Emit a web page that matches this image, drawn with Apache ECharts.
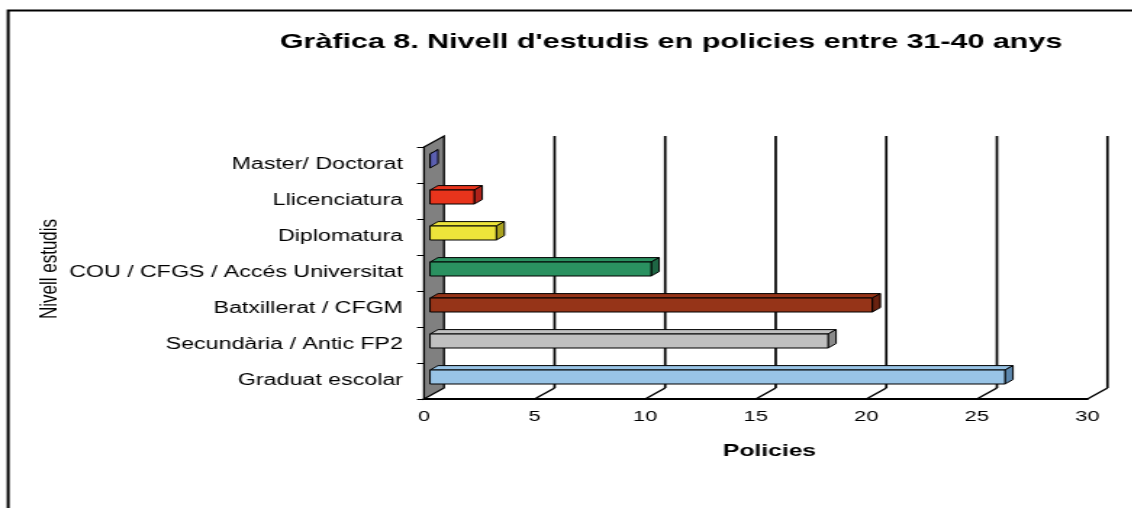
<!DOCTYPE html>
<html>
<head>
<meta charset="utf-8">
<script src="https://cdn.jsdelivr.net/npm/echarts@6/dist/echarts.min.js"></script>
<style>
  html, body { margin: 0; padding: 0; background: #fff; overflow: hidden; }
  /* the original picture is stretched sideways, so the chart is drawn narrow and widened */
  #chart { width: 781.4px; height: 508px; transform: scaleX(1.45); transform-origin: 0 0; }
</style>
</head>
<body>
<div id="chart"></div>
<script>
// categories top to bottom
const categories = [
  'Master/ Doctorat',
  'Llicenciatura',
  'Diplomatura',
  'COU / CFGS / Accés Universitat',
  'Batxillerat / CFGM',
  'Secundària / Antic FP2',
  'Graduat escolar'
];
const values = [0, 2, 3, 10, 20, 18, 26];
const frontColors = ['#7b7fd6', '#e8341c', '#ede43a', '#2a9160', '#963418', '#c0c0c0', '#99c4e6'];
const sideColors = ['#5b5fb0', '#b0221a', '#aaa21e', '#1e6644', '#6a2210', '#8a8a8a', '#5c87ad'];
const xTicks = [0, 5, 10, 15, 20, 25, 30];

const SX = 1.45;          // horizontal stretch
const DX = 20 / SX, DY = 11; // depth offset of back plane

const chart = echarts.init(document.getElementById('chart'));

const option = {
  animation: false,
  backgroundColor: '#fff',
  title: {
    text: "Gràfica 8. Nivell d'estudis en policies entre 31-40 anys",
    left: 188,
    top: 27,
    textStyle: { fontFamily: 'Liberation Sans', fontWeight: 'bold', fontSize: 21, color: '#000' }
  },
  graphic: [{
    type: 'rect',
    shape: { x: 5.6, y: 10.5, width: 1300, height: 700 },
    style: { fill: 'none', stroke: '#000', lineWidth: 2 },
    silent: true
  }],
  grid: { left: 424 / SX, right: 45 / SX, top: 147, bottom: 109 },
  xAxis: {
    type: 'value',
    min: 0,
    max: 30,
    interval: 5,
    name: 'Policies',
    nameLocation: 'middle',
    nameGap: 44,
    nameTextStyle: { fontFamily: 'Liberation Sans', fontWeight: 'bold', fontSize: 17, color: '#000', padding: [0, 0, 0, 19] },
    axisLine: { show: true, lineStyle: { color: '#000', width: 2 } },
    axisTick: { show: false },
    splitLine: { show: false },
    axisLabel: { margin: 10, fontFamily: 'Liberation Sans', fontSize: 15, color: '#000' }
  },
  yAxis: {
    type: 'category',
    inverse: true,
    data: categories,
    name: 'Nivell estudis',
    nameLocation: 'middle',
    nameRotate: 90,
    nameGap: 250,
    nameMoveOverlap: false,
    nameTextStyle: { fontFamily: 'Liberation Sans', fontSize: 17, color: '#000', padding: [0, 0, 0, 8] },
    axisLine: { show: true, lineStyle: { color: '#000', width: 1 } },
    axisTick: { show: true, length: 7 / SX, lineStyle: { color: '#000' } },
    axisLabel: { margin: 21 / SX, fontFamily: 'Liberation Sans', fontSize: 16, color: '#000' }
  },
  series: [
    {
      type: 'custom',
      z: 1,
      encode: { x: 0, y: 1 },
      data: xTicks.map(v => [v, 0]),
      renderItem: function (params, api) {
        const cs = params.coordSys;
        const x = api.coord([api.value(0), 0])[0];
        const top = cs.y, bottom = cs.y + cs.height;
        if (api.value(0) === 0) {
          return {
            type: 'polygon',
            shape: { points: [[x, bottom], [x, top], [x + DX, top - DY], [x + DX, bottom - DY]] },
            style: { fill: '#808080', stroke: '#000', lineWidth: 1.3 }
          };
        }
        return {
          type: 'group',
          children: [
            {
              type: 'line',
              shape: { x1: x, y1: bottom, x2: x + DX, y2: bottom - DY },
              style: { stroke: '#000', lineWidth: 1.5 }
            },
            {
              type: 'line',
              shape: { x1: x + DX, y1: bottom - DY, x2: x + DX, y2: top - DY },
              style: { stroke: '#000', lineWidth: 1.7 }
            }
          ]
        };
      }
    },
    {
      type: 'custom',
      z: 3,
      encode: { x: 0, y: 1 },
      data: values.map((v, i) => [v, i]),
      renderItem: function (params, api) {
        const i = api.value(1);
        const p0 = api.coord([0, i]);
        const p1 = api.coord([api.value(0), i]);
        const fx = 6 / SX, h = 14, dep = 8 / SX, depY = 4.4;
        const x0 = p0[0] + fx, x1 = p1[0] + fx;
        const yT = p0[1] - 4 - h / 2, yB = yT + h;
        const idx = params.dataIndex;
        const stroke = { stroke: '#000', lineWidth: 1 };
        return {
          type: 'group',
          children: [
            {
              type: 'polygon',
              shape: { points: [[x0, yT], [x1, yT], [x1 + dep, yT - depY], [x0 + dep, yT - depY]] },
              style: Object.assign({ fill: frontColors[idx] }, stroke)
            },
            {
              type: 'polygon',
              shape: { points: [[x1, yT], [x1 + dep, yT - depY], [x1 + dep, yB - depY], [x1, yB]] },
              style: Object.assign({ fill: sideColors[idx] }, stroke)
            },
            {
              type: 'rect',
              shape: { x: x0, y: yT, width: x1 - x0, height: h },
              style: Object.assign({ fill: frontColors[idx] }, stroke)
            }
          ]
        };
      }
    }
  ]
};

chart.setOption(option);
</script>
</body>
</html>
